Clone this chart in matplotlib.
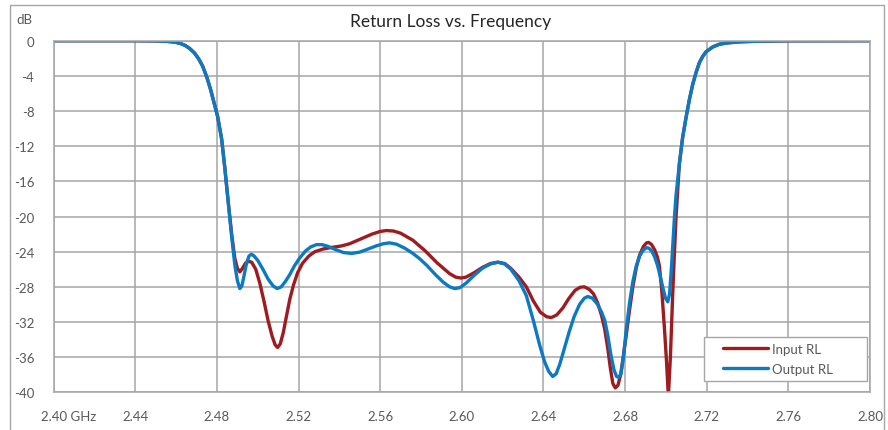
from pathlib import Path

import matplotlib

matplotlib.use("Agg")
import matplotlib.pyplot as plt
from matplotlib.patches import Rectangle
from matplotlib.transforms import ScaledTranslation

# values (GHz, dB)
input_freq = [
    2.400, 2.420, 2.440, 2.450, 2.455, 2.459, 2.462, 2.4645, 2.4667, 2.4690,
    2.4710, 2.4730, 2.4751, 2.4768, 2.4785, 2.4803, 2.4823, 2.4839, 2.4855, 2.4872,
    2.4887, 2.4900, 2.4912, 2.4925, 2.4940, 2.4955, 2.4970, 2.4990, 2.5010, 2.5030,
    2.5050, 2.5070, 2.5085, 2.5097, 2.5110, 2.5125, 2.5140, 2.5157, 2.5175, 2.5195,
    2.5220, 2.5250, 2.5280, 2.5320, 2.5367, 2.5410, 2.5450, 2.5500, 2.5560, 2.5600,
    2.5630, 2.5665, 2.5700, 2.5760, 2.5820, 2.5880, 2.5940, 2.5970, 2.5995, 2.6020,
    2.6060, 2.6100, 2.6140, 2.6177, 2.6210, 2.6240, 2.6280, 2.6316, 2.6350, 2.6385,
    2.6415, 2.6438, 2.6465, 2.6495, 2.6525, 2.6555, 2.6580, 2.6600, 2.6625, 2.6645,
    2.6665, 2.6685, 2.6700, 2.6715, 2.6728, 2.6740, 2.6752, 2.6765, 2.6778, 2.6792,
    2.6805, 2.6822, 2.6838, 2.6855, 2.6871, 2.6890, 2.6905, 2.6916, 2.6930, 2.6945,
    2.6958, 2.6968, 2.6980, 2.6993, 2.7003, 2.7012, 2.7022, 2.7033, 2.7042, 2.7050,
    2.7066, 2.7082, 2.7099, 2.7115, 2.7131, 2.7148, 2.7164, 2.7180, 2.7197, 2.7230,
    2.7262, 2.7300, 2.7360, 2.7450, 2.7600, 2.7800, 2.8000,
]
input_rl = [
    0.0, 0.0, 0.0, -0.02, -0.06, -0.15, -0.3, -0.55, -0.9, -1.4,
    -2.05, -2.9, -4.2, -5.5, -7.0, -8.6, -11.2, -14.6, -18.3, -22.0,
    -24.7, -25.9, -26.3, -25.9, -25.3, -25.1, -25.2, -26.0, -27.6, -29.6,
    -31.8, -33.6, -34.6, -34.9, -34.5, -33.2, -31.4, -29.4, -27.8, -26.4,
    -25.3, -24.5, -24.0, -23.7, -23.5, -23.35, -23.1, -22.6, -22.0, -21.7,
    -21.6, -21.65, -21.9, -22.7, -23.9, -25.3, -26.5, -26.9, -27.0, -26.9,
    -26.4, -25.8, -25.35, -25.2, -25.35, -25.9, -26.9, -28.0, -29.6, -30.9,
    -31.4, -31.5, -31.2, -30.4, -29.3, -28.4, -28.05, -28.0, -28.3, -28.8,
    -29.8, -31.3, -32.8, -35.0, -37.3, -39.0, -39.5, -39.2, -38.0, -35.8,
    -33.6, -30.6, -28.0, -25.8, -24.4, -23.4, -23.0, -22.95, -23.2, -23.8,
    -24.6, -25.6, -28.5, -32.8, -36.5, -40.5, -36.0, -29.0, -24.0, -19.9,
    -14.0, -11.0, -8.7, -6.7, -5.0, -3.6, -2.5, -1.8, -1.25, -0.7,
    -0.4, -0.25, -0.13, -0.05, -0.01, 0.0, 0.0,
]

output_freq = [
    2.400, 2.420, 2.440, 2.450, 2.455, 2.459, 2.462, 2.4645, 2.4667, 2.4690,
    2.4710, 2.4730, 2.4751, 2.4768, 2.4785, 2.4803, 2.4823, 2.4839, 2.4855, 2.4872,
    2.4888, 2.4900, 2.4912, 2.4922, 2.4932, 2.4945, 2.4957, 2.4968, 2.4980, 2.5000,
    2.5025, 2.5050, 2.5075, 2.5095, 2.5115, 2.5135, 2.5157, 2.5180, 2.5206, 2.5235,
    2.5260, 2.5288, 2.5315, 2.5345, 2.5380, 2.5420, 2.5459, 2.5500, 2.5540, 2.5580,
    2.5615, 2.5646, 2.5680, 2.5720, 2.5760, 2.5793, 2.5830, 2.5870, 2.5910, 2.5940,
    2.5965, 2.5990, 2.6020, 2.6060, 2.6100, 2.6140, 2.6177, 2.6210, 2.6240, 2.6280,
    2.6316, 2.6350, 2.6381, 2.6405, 2.6425, 2.6445, 2.6462, 2.6480, 2.6500, 2.6525,
    2.6550, 2.6577, 2.6600, 2.6617, 2.6640, 2.6665, 2.6685, 2.6700, 2.6715, 2.6730,
    2.6745, 2.6758, 2.6769, 2.6780, 2.6792, 2.6805, 2.6822, 2.6838, 2.6855, 2.6871,
    2.6890, 2.6905, 2.6916, 2.6930, 2.6945, 2.6958, 2.6970, 2.6985, 2.6998, 2.7009,
    2.7018, 2.7028, 2.7042, 2.7050, 2.7066, 2.7082, 2.7099, 2.7115, 2.7131, 2.7148,
    2.7164, 2.7180, 2.7197, 2.7230, 2.7262, 2.7300, 2.7360, 2.7450, 2.7600, 2.7800,
    2.8000,
]
output_rl = [
    0.0, 0.0, 0.0, -0.02, -0.06, -0.15, -0.3, -0.55, -0.9, -1.4,
    -2.05, -2.9, -4.2, -5.5, -7.0, -8.6, -11.2, -14.6, -18.3, -22.3,
    -25.6, -27.3, -28.2, -27.9, -26.8, -25.3, -24.5, -24.3, -24.45, -25.0,
    -26.0, -27.1, -27.9, -28.2, -28.0, -27.4, -26.6, -25.6, -24.7, -23.9,
    -23.45, -23.2, -23.2, -23.4, -23.75, -24.1, -24.2, -24.05, -23.7, -23.35,
    -23.1, -23.0, -23.15, -23.6, -24.2, -24.8, -25.6, -26.6, -27.5, -28.0,
    -28.2, -28.1, -27.6, -26.7, -25.9, -25.4, -25.2, -25.4, -26.0, -27.3,
    -29.0, -31.8, -34.6, -36.5, -37.6, -38.2, -37.9, -36.8, -35.2, -33.2,
    -31.4, -30.0, -29.3, -29.1, -29.3, -30.0, -30.9, -31.8, -33.5, -35.7,
    -37.4, -38.2, -38.3, -37.9, -36.0, -33.0, -29.8, -27.4, -25.6, -24.5,
    -23.8, -23.55, -23.6, -23.9, -24.6, -25.5, -26.6, -28.1, -29.3, -29.7,
    -28.8, -25.5, -20.0, -17.5, -14.0, -11.0, -8.7, -6.7, -5.0, -3.6,
    -2.5, -1.8, -1.25, -0.7, -0.4, -0.25, -0.13, -0.05, -0.01, 0.0,
    0.0,
]

x_ticks = [2.40, 2.44, 2.48, 2.52, 2.56, 2.60, 2.64, 2.68, 2.72, 2.76, 2.80]
x_tick_labels = ["2.40 GHz", "2.44", "2.48", "2.52", "2.56", "2.60", "2.64", "2.68", "2.72", "2.76", "2.80"]
y_ticks = [0, -4, -8, -12, -16, -20, -24, -28, -32, -36, -40]

INPUT_COLOR = "#9E1B20"
OUTPUT_COLOR = "#0C7AC3"
GRID_COLOR = "#A6A6A6"
TEXT_COLOR = "#595959"
FONT = ["Lato", "DejaVu Sans"]


def plot_return_loss(output_path: Path) -> None:
    plt.rcParams["font.family"] = FONT
    fig = plt.figure(figsize=(8.88, 4.31), dpi=100)
    ax = fig.add_axes([0.0605, 0.0875, 0.9192, 0.8157])

    ax.plot(input_freq, input_rl, color=INPUT_COLOR, linewidth=2.4, label="Input RL",
            solid_joinstyle="round", solid_capstyle="round")
    ax.plot(output_freq, output_rl, color=OUTPUT_COLOR, linewidth=2.4, label="Output RL",
            solid_joinstyle="round", solid_capstyle="round")

    ax.set_xlim(2.40, 2.80)
    ax.set_ylim(-40, 0)
    ax.set_xticks(x_ticks)
    ax.set_xticklabels(x_tick_labels)
    ax.set_yticks(y_ticks)
    ax.set_yticklabels([str(v) for v in y_ticks])
    ax.tick_params(length=0, colors=TEXT_COLOR, labelsize=9.5)
    ax.tick_params(axis="y", pad=14)
    ax.tick_params(axis="x", pad=13)

    # Excel puts the unit after the first label, keeping the number over its gridline
    first = ax.get_xticklabels()[0]
    first.set_horizontalalignment("left")
    first.set_transform(first.get_transform() + ScaledTranslation(-13 / 100, 0, fig.dpi_scale_trans))

    ax.grid(True, color=GRID_COLOR, linewidth=1.1)
    ax.set_axisbelow(True)
    for spine in ax.spines.values():
        spine.set_color(GRID_COLOR)
        spine.set_linewidth(1.1)

    fig.text(0.508, 0.948, "Return Loss vs. Frequency", ha="center", va="center",
             fontsize=12.5, color="#262626")
    fig.text(0.019, 0.953, "dB", ha="left", va="center", fontsize=9.5, color=TEXT_COLOR)

    fig.add_artist(Rectangle((10 / 888, -0.01), 874 / 888, 1 - 5.7 / 431 + 0.01,
                             transform=fig.transFigure, fill=False,
                             edgecolor="#A6A6A6", linewidth=1.0))

    # legend box drawn separately so it can be wider than its contents
    ax.add_patch(Rectangle((0.7961, 0.0313), 0.1997, 0.1251, transform=ax.transAxes,
                           facecolor="white", edgecolor=GRID_COLOR, linewidth=1.0, zorder=4))
    legend = ax.legend(loc="upper left", bbox_to_anchor=(0.8199, 0.1416), borderaxespad=0,
                       borderpad=0, fontsize=9.5, frameon=False, handlelength=3.4,
                       handletextpad=0.3, labelspacing=0.62)
    legend.set_zorder(5)
    for text in legend.get_texts():
        text.set_color(TEXT_COLOR)

    fig.savefig(output_path, dpi=100)
    plt.close(fig)


def main() -> int:
    plot_return_loss(Path("out.png"))
    return 0


if __name__ == "__main__":
    raise SystemExit(main())
